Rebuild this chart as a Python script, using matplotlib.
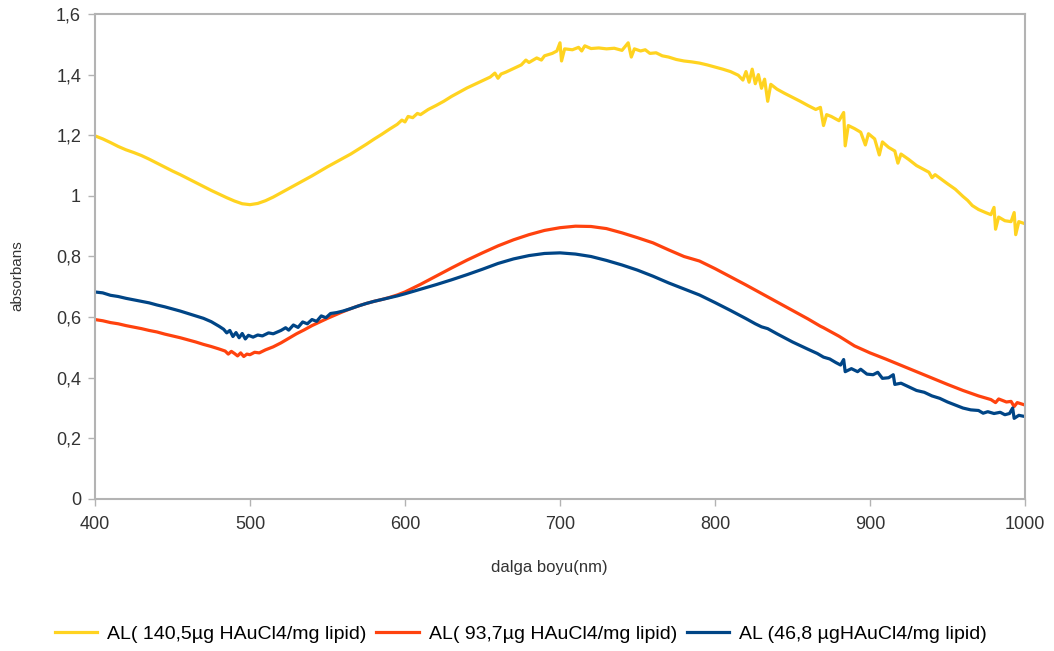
import matplotlib
matplotlib.use("Agg")
import matplotlib.pyplot as plt
from matplotlib.ticker import FuncFormatter, MultipleLocator

plt.rcParams["font.family"] = ["Liberation Sans", "DejaVu Sans"]

# absorbance spectra, read per series (wavelength in nm)
wl_140 = [400, 405, 410, 415, 420, 425, 430, 435, 440, 445, 450, 455, 460, 465, 470, 475,
          480, 485, 490, 495, 500, 505, 510, 515, 520, 525, 530, 535, 540, 545, 550, 555,
          560, 565, 570, 575, 580, 585, 590, 595, 598, 600, 602, 605, 608, 610, 615, 620,
          625, 630, 635, 640, 645, 650, 655, 658, 660, 662, 665, 670, 675, 678, 680, 685,
          688, 690, 695, 698, 700, 701, 703, 708, 712, 714, 716, 720, 725, 730, 735, 740,
          744, 746, 748, 752, 755, 758, 762, 766, 770, 775, 780, 785, 790, 795, 800, 805,
          810, 815, 818, 820, 822, 824, 826, 828, 830, 832, 834, 836, 840, 845, 850, 855,
          860, 865, 868, 870, 872, 875, 880, 883, 884, 886, 890, 894, 897, 899, 903, 906,
          908, 912, 916, 918, 920, 925, 930, 935, 938, 940, 942, 946, 950, 955, 960, 963,
          966, 970, 975, 978, 980, 981, 983, 987, 991, 993, 994, 996, 1000]
abs_140 = [1.198, 1.188, 1.176, 1.163, 1.152, 1.143, 1.133, 1.121, 1.108, 1.095, 1.082, 1.070,
           1.057, 1.044, 1.031, 1.018, 1.006, 0.994, 0.983, 0.974, 0.971, 0.975, 0.984, 0.996,
           1.010, 1.024, 1.038, 1.052, 1.066, 1.081, 1.096, 1.110, 1.124, 1.138, 1.154, 1.170,
           1.187, 1.203, 1.220, 1.236, 1.250, 1.244, 1.262, 1.258, 1.272, 1.268, 1.285, 1.298,
           1.312, 1.328, 1.342, 1.356, 1.368, 1.380, 1.392, 1.405, 1.388, 1.402, 1.408, 1.420,
           1.432, 1.448, 1.440, 1.455, 1.448, 1.462, 1.470, 1.478, 1.505, 1.445, 1.485, 1.482,
           1.490, 1.478, 1.495, 1.486, 1.488, 1.485, 1.487, 1.480, 1.505, 1.458, 1.485, 1.478,
           1.482, 1.470, 1.472, 1.462, 1.458, 1.450, 1.445, 1.442, 1.438, 1.432, 1.425, 1.418,
           1.410, 1.398, 1.382, 1.410, 1.375, 1.418, 1.370, 1.400, 1.355, 1.385, 1.312, 1.368,
           1.352, 1.338, 1.325, 1.312, 1.298, 1.285, 1.292, 1.232, 1.268, 1.262, 1.248, 1.275,
           1.165, 1.232, 1.222, 1.210, 1.168, 1.205, 1.188, 1.135, 1.178, 1.160, 1.148, 1.108,
           1.138, 1.120, 1.100, 1.086, 1.078, 1.060, 1.070, 1.055, 1.040, 1.022, 0.998, 0.985,
           0.968, 0.955, 0.944, 0.938, 0.962, 0.890, 0.930, 0.918, 0.915, 0.945, 0.872, 0.915,
           0.908]

wl_93 = [400, 405, 410, 415, 420, 425, 430, 435, 440, 445, 450, 455, 460, 465, 470, 475,
         480, 484, 486, 488, 490, 492, 494, 496, 498, 500, 503, 506, 510, 515, 520, 525,
         530, 535, 540, 545, 550, 555, 560, 565, 570, 575, 580, 585, 590, 595, 600, 610,
         620, 630, 640, 650, 660, 670, 680, 690, 700, 710, 720, 730, 740, 750, 760, 770,
         780, 790, 800, 810, 820, 830, 840, 850, 860, 868, 870, 880, 890, 900, 910, 920,
         930, 940, 950, 960, 970, 978, 981, 983, 988, 991, 993, 995, 1000]
abs_93 = [0.592, 0.588, 0.582, 0.578, 0.572, 0.567, 0.562, 0.556, 0.551, 0.544, 0.538, 0.532,
          0.525, 0.518, 0.510, 0.503, 0.495, 0.488, 0.478, 0.487, 0.480, 0.472, 0.482, 0.470,
          0.478, 0.476, 0.484, 0.482, 0.492, 0.502, 0.515, 0.530, 0.545, 0.558, 0.572, 0.584,
          0.596, 0.607, 0.618, 0.628, 0.637, 0.645, 0.652, 0.658, 0.665, 0.673, 0.683, 0.708,
          0.735, 0.762, 0.788, 0.812, 0.835, 0.855, 0.872, 0.886, 0.895, 0.900, 0.899, 0.892,
          0.878, 0.862, 0.845, 0.822, 0.800, 0.785, 0.760, 0.733, 0.706, 0.678, 0.650, 0.622,
          0.594, 0.570, 0.565, 0.537, 0.505, 0.482, 0.462, 0.441, 0.420, 0.399, 0.378, 0.358,
          0.340, 0.328, 0.318, 0.330, 0.320, 0.322, 0.305, 0.318, 0.310]

wl_46 = [400, 405, 410, 415, 420, 425, 430, 435, 440, 445, 450, 455, 460, 465, 470, 475,
         480, 483, 485, 487, 489, 491, 493, 495, 497, 499, 502, 505, 508, 512, 515, 520,
         523, 525, 528, 531, 534, 537, 540, 543, 546, 549, 552, 556, 560, 565, 570, 575,
         580, 585, 590, 595, 600, 610, 620, 630, 640, 650, 660, 670, 680, 690, 700, 710,
         720, 730, 740, 750, 760, 770, 780, 790, 800, 810, 820, 826, 830, 834, 840, 850,
         860, 866, 870, 874, 878, 881, 883, 884, 888, 892, 894, 898, 902, 905, 908, 912,
         915, 916, 920, 925, 930, 935, 940, 945, 950, 955, 960, 965, 970, 973, 976, 980,
         984, 987, 990, 992, 993, 996, 1000]
abs_46 = [0.683, 0.680, 0.672, 0.668, 0.662, 0.657, 0.652, 0.647, 0.640, 0.634, 0.627, 0.620,
          0.612, 0.604, 0.596, 0.585, 0.570, 0.560, 0.548, 0.556, 0.536, 0.549, 0.532, 0.546,
          0.528, 0.540, 0.534, 0.541, 0.538, 0.548, 0.545, 0.556, 0.565, 0.557, 0.574, 0.566,
          0.584, 0.578, 0.592, 0.586, 0.604, 0.598, 0.612, 0.615, 0.620, 0.628, 0.637, 0.645,
          0.652, 0.658, 0.664, 0.670, 0.677, 0.692, 0.707, 0.723, 0.740, 0.758, 0.777, 0.792,
          0.803, 0.810, 0.812, 0.808, 0.800, 0.787, 0.772, 0.755, 0.735, 0.713, 0.693, 0.673,
          0.648, 0.622, 0.595, 0.578, 0.568, 0.562, 0.545, 0.518, 0.494, 0.480, 0.468, 0.462,
          0.450, 0.442, 0.460, 0.420, 0.430, 0.420, 0.428, 0.412, 0.410, 0.418, 0.398, 0.400,
          0.410, 0.378, 0.382, 0.370, 0.358, 0.352, 0.340, 0.332, 0.320, 0.310, 0.300, 0.294,
          0.292, 0.283, 0.288, 0.282, 0.286, 0.278, 0.282, 0.300, 0.266, 0.276, 0.272]

labels = ["AL( 140,5µg HAuCl4/mg lipid)",
          "AL( 93,7µg HAuCl4/mg lipid)",
          "AL (46,8 µgHAuCl4/mg lipid)"]
colors = ["#ffd320", "#ff420e", "#004586"]

fig = plt.figure(figsize=(10.54, 6.51), dpi=100)
ax = fig.add_axes([0.0901, 0.2335, 0.8824, 0.745])

for wl, ab, lab, col in zip([wl_140, wl_93, wl_46], [abs_140, abs_93, abs_46], labels, colors):
    ax.plot(wl, ab, color=col, linewidth=2.3, label=lab, solid_joinstyle="round")

ax.set_xlim(400, 1000)
ax.set_ylim(0, 1.6)
ax.xaxis.set_major_locator(MultipleLocator(100))
ax.yaxis.set_major_locator(MultipleLocator(0.2))
ax.yaxis.set_major_formatter(FuncFormatter(lambda v, p: f"{v:g}".replace(".", ",")))

frame_col = "#b3b3b3"
for side in ax.spines.values():
    side.set_color(frame_col)
    side.set_linewidth(1.5)
ax.tick_params(axis="both", direction="out", length=5, width=1, color=frame_col,
               labelsize=13, labelcolor="#333333")
ax.tick_params(axis="x", pad=7)
ax.tick_params(axis="y", pad=5)

ax.set_xlabel("dalga boyu(nm)", fontsize=12, color="#333333")
ax.xaxis.set_label_coords(0.488, -0.125)
ax.set_ylabel("absorbans", fontsize=11, color="#333333")
ax.yaxis.set_label_coords(-0.076, 0.46)

fig.legend(loc="center", bbox_to_anchor=(0.494, 1 - 634 / 651), ncol=3, frameon=False,
           fontsize=14, handlelength=2.2, columnspacing=0.5, handletextpad=0.5)

plt.savefig("out.png", dpi=100)
plt.close()
